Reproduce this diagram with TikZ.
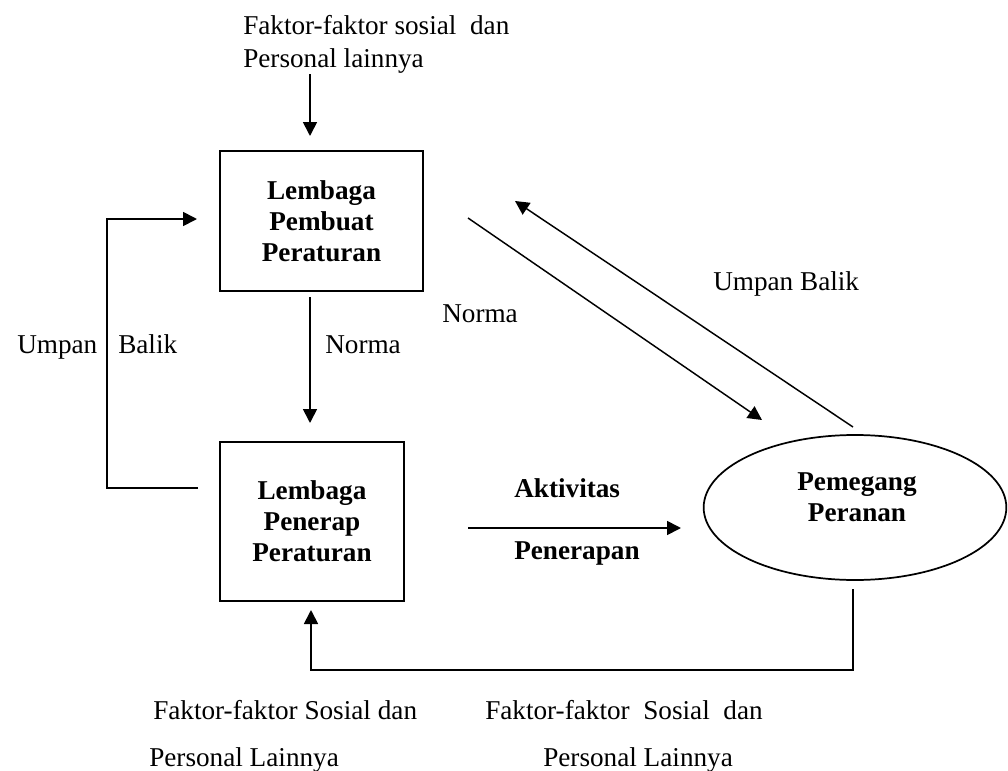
\documentclass[tikz,border=0pt]{standalone}
\usepackage{fontspec}
\setmainfont{Liberation Serif}
\usetikzlibrary{arrows.meta,shapes.geometric}
\begin{document}
\begin{tikzpicture}[x=0.75pt,y=-0.75pt,
  txt/.style={font=\fontsize{20.4}{23.25}\selectfont, inner sep=0pt},
  btxt/.style={font=\fontsize{20.4}{23.25}\selectfont\bfseries, inner sep=0pt, align=center},
  boxnode/.style={draw, line width=1.4pt, btxt},
  ln/.style={line width=1.3pt},
  arr/.style={ln, -{Triangle[length=10.5pt,width=10.5pt]}},
  darr/.style={line width=1.1pt, -{Triangle[length=10.5pt,width=10.5pt]}}]
\useasboundingbox (0,0) rectangle (1008,771);

% nodes
\node[boxnode, minimum width=152.25pt, minimum height=105pt] (box1) at (321.5,221) {Lembaga\\Pembuat\\Peraturan};
\node[boxnode, minimum width=138pt, minimum height=119.25pt] (box2) at (312,521.5) {Lembaga\\Penerap\\Peraturan};
\node[draw, ellipse, line width=1.3pt, minimum width=227pt, minimum height=108.75pt, inner sep=0pt] (ell) at (855,507.5) {};
\node[btxt] (ellt) at (857,497) {Pemegang\\Peranan};

% texts
\node[txt, anchor=base west] (top1) at (243,35) {Faktor-faktor sosial\ \ dan};
\node[txt, anchor=base west] (top2) at (243,67) {Personal lainnya};
\node[txt, anchor=base west] (norma1) at (325,353) {Norma};
\node[txt, anchor=base west] (umpan) at (17,353) {Umpan};
\node[txt, anchor=base west] (balik) at (118,353) {Balik};
\node[txt, anchor=base west] (norma2) at (442,322) {Norma};
\node[txt, anchor=base west] (umpanbalik) at (713,290) {Umpan Balik};
\node[txt, anchor=base west, font=\fontsize{20.4}{23.25}\selectfont\bfseries] (akt) at (514,497) {Aktivitas};
\node[txt, anchor=base west, font=\fontsize{20.4}{23.25}\selectfont\bfseries] (pen) at (514,559) {Penerapan};
\node[txt, anchor=base west] (bl1) at (153,719) {Faktor-faktor Sosial dan};
\node[txt, anchor=base west] (bl2) at (149,766) {Personal Lainnya};
\node[txt, anchor=base west] (br1) at (485,719) {Faktor-faktor\ \ Sosial\ \ dan};
\node[txt, anchor=base west] (br2) at (543,766) {Personal Lainnya};

% coordinates
\coordinate (topstart) at (310,74);
\coordinate (topend) at (310,136);
\coordinate (vstart) at (310,297);
\coordinate (vend) at (310,423);
\coordinate (ns) at (468,218);
\coordinate (ne) at (762,420);
\coordinate (us) at (853,427);
\coordinate (ue) at (515,201);
\coordinate (fbs) at (198,488);
\coordinate (fbc) at (107,488);
\coordinate (fbe) at (197,219);
\coordinate (as) at (468,528);
\coordinate (ae) at (681,528);
\coordinate (ellbot) at (853,589);
\coordinate (corner) at (853,670);
\coordinate (retend) at (311,610);

% connectors
\draw[arr] (topstart) -- (topend);
\draw[arr] (vstart) -- (vend);
\draw[darr] (ns) -- (ne);
\draw[darr] (us) -- (ue);
\draw[arr] (fbs) -- (fbc) |- (fbe);
\draw[arr] (as) -- (ae);
\draw[arr] (ellbot) -- (corner) -| (retend);
\end{tikzpicture}
\end{document}
